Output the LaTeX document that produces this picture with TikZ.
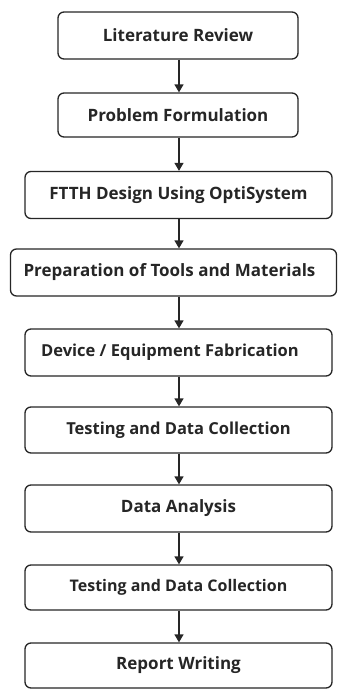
\documentclass[tikz,border=0pt]{standalone}
\usepackage{fontspec}
\setmainfont{Open Sans}
\usetikzlibrary{arrows.meta}
\begin{document}
\begin{tikzpicture}[x=1pt,y=-1pt,
  stepbox/.style={draw=black!85, line width=1.3pt, rounded corners=6pt, fill=white,
    inner sep=0pt, font=\fontsize{17}{20}\selectfont\bfseries, text=black!85},
  flow/.style={draw=black!85, line width=1.3pt, -{Triangle[length=8pt,width=9pt]}}]
\useasboundingbox (0,0) rectangle (338,689);
\node[stepbox, minimum width=240pt, minimum height=47pt] (b1) at (178,35.5) {Literature Review};
\node[stepbox, minimum width=240pt, minimum height=44pt] (b2) at (178,115) {Problem Formulation};
\node[stepbox, minimum width=307pt, minimum height=47pt] (b3) at (178.5,195) {FTTH Design Using OptiSystem};
\node[stepbox, minimum width=326pt, minimum height=47pt] (b4) at (173.5,272.5) {};
\node[font=\fontsize{17}{20}\selectfont\bfseries, text=black!85] (t4) at (b4.center) {\hspace*{-8pt}Preparation of Tools and Materials};
\node[stepbox, minimum width=307pt, minimum height=47pt] (b5) at (178.5,352.5) {};
\node[font=\fontsize{16.5}{20}\selectfont\bfseries, text=black!85] (t5) at (170,352.5) {Device / Equipment Fabrication};
\node[stepbox, minimum width=307pt, minimum height=46pt, font=\fontsize{16.5}{20}\selectfont\bfseries] (b6) at (178.5,430) {Testing and Data Collection};
\node[stepbox, minimum width=307pt, minimum height=47pt] (b7) at (178.5,508.5) {Data Analysis};
\node[stepbox, minimum width=307pt, minimum height=45pt, font=\fontsize{16}{20}\selectfont\bfseries] (b8) at (178.5,587.5) {Testing and Data Collection};
\node[stepbox, minimum width=307pt, minimum height=45pt] (b9) at (178.5,665.5) {Report Writing};
\foreach \a/\b in {b1/b2,b2/b3,b3/b4,b4/b5,b5/b6,b6/b7,b7/b8,b8/b9}
  \draw[flow] (\a.south -| 179,0) -- (\b.north -| 179,0);
\end{tikzpicture}
\end{document}
